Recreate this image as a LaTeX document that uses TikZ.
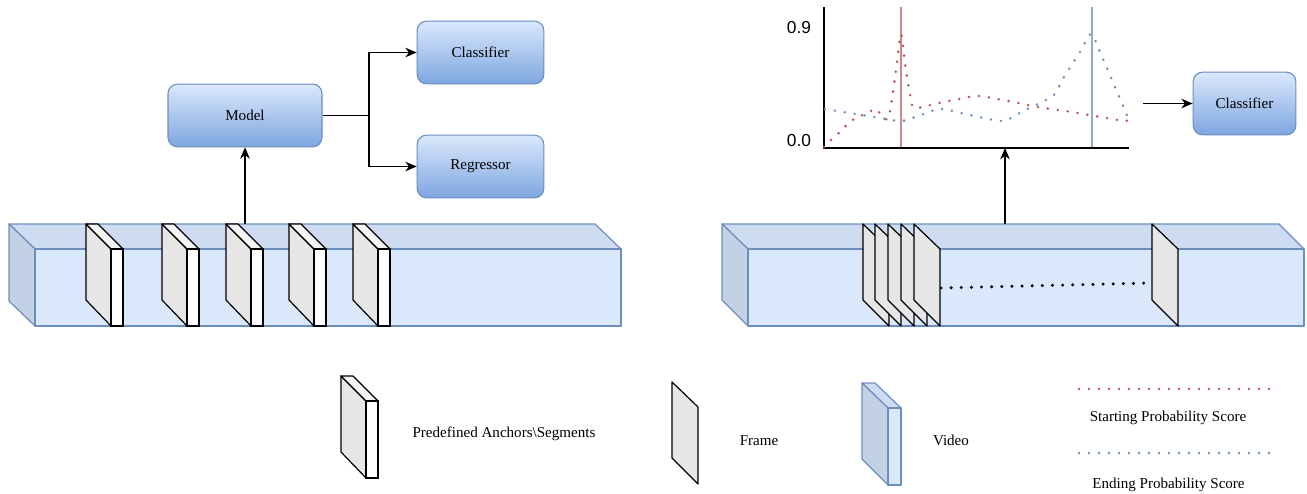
\documentclass[tikz,border=0pt]{standalone}
\usepackage{fontspec}
\setmainfont{Liberation Serif}
\newfontfamily\axisfont{Liberation Sans}
\usetikzlibrary{arrows.meta}

\definecolor{vidfront}{HTML}{DAE8FC}
\definecolor{vidtop}{HTML}{CDDCF1}
\definecolor{vidside}{HTML}{C3D1E5}
\definecolor{vidline}{HTML}{6C8EBF}
\definecolor{boxbot}{HTML}{7EA6E0}
\definecolor{startred}{HTML}{B85450}
\definecolor{endblue}{HTML}{6C8EBF}
\definecolor{framegrey}{HTML}{E6E6E6}
\definecolor{frametop}{HTML}{F5F5F5}

\tikzset{
	mbox/.style={draw=vidline, line width=0.8pt, rounded corners=7pt,
		top color=vidfront, bottom color=boxbot, minimum height=47pt,
		font=\fontsize{11.3}{13.5}\selectfont},
	lbl/.style={font=\fontsize{11.3}{13.5}\selectfont, inner sep=0pt},
	vidface/.style={draw=vidline, line width=0.9pt, line join=round},
	startdots/.style={draw=startred, line width=2.1pt, line cap=round, dash pattern=on 0pt off 7.5pt},
	enddots/.style={draw=endblue, line width=2.1pt, line cap=round, dash pattern=on 0pt off 7.5pt},
	framepic/.pic={
		\filldraw[draw=black, fill=framegrey, line width=0.9pt, line join=round]
			(0,0) -- (26,25) -- (26,102) -- (0,76) -- cycle;
	},
	segpic/.pic={
		\filldraw[draw=black, fill=framegrey, line width=0.9pt, line join=round]
			(0,0) -- (25,25) -- (25,102) -- (0,76) -- cycle;
		\filldraw[draw=black, fill=frametop, line width=0.9pt, line join=round]
			(0,0) -- (12,0) -- (37,25) -- (25,25) -- cycle;
		\filldraw[draw=black, fill=white, line width=0.9pt]
			(25,25) rectangle (37,102);
	}
}

\begin{document}
\begin{tikzpicture}[x=0.75pt, y=-0.75pt,
		every path/.style={>={Stealth[length=8.5pt,width=7.2pt]}}]
	\useasboundingbox (0,0) rectangle (1307,493);

	% left video with anchors
	\filldraw[vidface, fill=vidtop] (9,224) -- (595,224) -- (621,249) -- (35,249) -- cycle;
	\filldraw[vidface, fill=vidside] (9,224) -- (35,249) -- (35,326) -- (9,301) -- cycle;
	\filldraw[vidface, fill=vidfront] (35,249) rectangle (621,326);
	\foreach \x in {86,162,226,289,353}
		\pic at (\x,224) {segpic};

	% right video with frames
	\filldraw[vidface, fill=vidtop] (722,224) -- (1279,224) -- (1304,249) -- (748,249) -- cycle;
	\filldraw[vidface, fill=vidside] (722,224) -- (748,249) -- (748,326) -- (722,300) -- cycle;
	\filldraw[vidface, fill=vidfront] (748,249) rectangle (1304,326);
	\coordinate (dotA) at (941,288);
	\coordinate (dotB) at (1151,283);
	\draw[line width=2.5pt, line cap=round, dash pattern=on 0pt off 7.6pt] (dotA) -- (dotB);
	\foreach \x in {863,875,888,901,914,1152}
		\pic at (\x,224) {framepic};

	% models
	\node[mbox, minimum width=115.5pt] (model) at (245,115.5) {Model};
	\node[mbox, minimum width=95pt] (clsL) at (480.5,52.5) {Classifier};
	\node[mbox, minimum width=95pt] (regL) at (480.5,166.5) {Regressor};
	\node[mbox, minimum width=77pt] (clsR) at (1244.5,103.5) {Classifier};

	\coordinate (vidLtop) at (245,224);
	\coordinate (split) at (369,115.5);
	\draw[->, line width=1pt] (vidLtop) -- (model);
	\draw[line width=1pt] (model) -- (split);
	\draw[->, line width=1pt] (split) |- (clsL);
	\draw[->, line width=1pt] (split) |- (regL);

	% score plot
	\draw[draw=startred!70, line width=1pt] (901,7) -- (901,148);
	\draw[draw=endblue!75, line width=1pt] (1092,7) -- (1092,148);
	\draw[line width=1.1pt] (824,7) -- (824,148) -- (1129,148);
	\node[font=\axisfont\fontsize{13}{15}\selectfont, inner sep=0pt] (tick9) at (799,28) {0.9};
	\node[font=\axisfont\fontsize{13}{15}\selectfont, inner sep=0pt] (tick0) at (799,141) {0.0};
	\draw[startdots] plot[smooth, tension=0.45] coordinates {
		(824,147) (832,139) (840,132) (851,121) (869,112) (876,109) (882,116)
		(888,119) (892,99) (896,70) (901,34) (905,64) (910,94) (914,108)
		(934,104) (954,100) (978,96) (1008,101) (1038,107) (1065,111)
		(1095,116) (1125,121) (1128,118)};
	\draw[enddots] plot[smooth, tension=0.45] coordinates {
		(825,109) (855,114) (886,119) (902,121) (921,115) (940,109) (970,115)
		(1003,121) (1021,112) (1040,103) (1054,95) (1064,77) (1080,52)
		(1091,34) (1100,52) (1112,80) (1124,108) (1128,118)};

	\coordinate (vidRtop) at (1005,224);
	\coordinate (axisHit) at (1005,148);
	\coordinate (plotEnd) at (1143,103.5);
	\draw[->, line width=1pt] (vidRtop) -- (axisHit);
	\draw[->, line width=1pt] (plotEnd) -- (clsR);

	% legend
	\pic at (341,376) {segpic};
	\node[lbl] (segTxt) at (504,434) {Predefined Anchors\textbackslash Segments};
	\pic at (672,382) {framepic};
	\node[lbl] (frameTxt) at (759,441) {Frame};
	\filldraw[vidface, fill=vidtop] (862,383) -- (875,383) -- (901,408) -- (888,408) -- cycle;
	\filldraw[vidface, fill=vidside] (862,383) -- (888,408) -- (888,485) -- (862,459) -- cycle;
	\filldraw[vidface, fill=vidfront] (888,408) rectangle (901,485);
	\node[lbl] (videoTxt) at (951,440) {Video};
	\coordinate (redA) at (1079,389);
	\coordinate (redB) at (1275,389);
	\coordinate (blueA) at (1079,453);
	\coordinate (blueB) at (1275,453);
	\draw[startdots] (redA) -- (redB);
	\draw[enddots] (blueA) -- (blueB);
	\node[lbl] (startTxt) at (1168,418) {Starting Probability Score};
	\node[lbl] (endTxt) at (1168.5,485) {Ending Probability Score};
\end{tikzpicture}
\end{document}
